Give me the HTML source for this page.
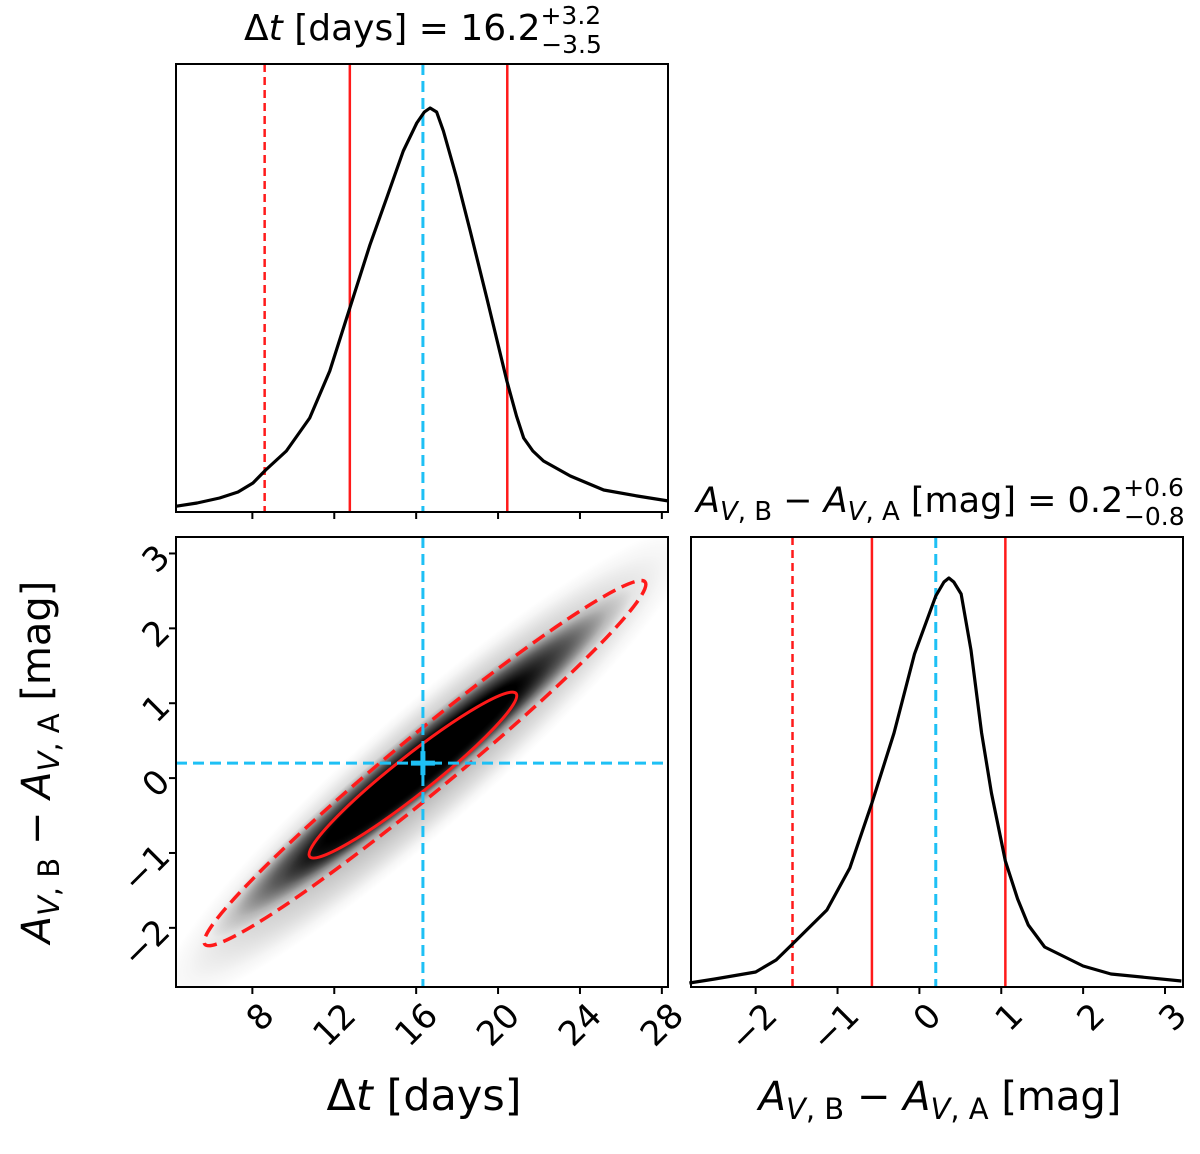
<!DOCTYPE html>
<html><head><meta charset="utf-8"><style>
body{margin:0;background:#fff}
svg{display:block;font-family:"DejaVu Sans","Liberation Sans",sans-serif}
</style></head><body>
<svg id="fig" width="1200" height="1154" viewBox="0 0 1200 1154" xmlns="http://www.w3.org/2000/svg">
<defs>
<radialGradient id="dens" cx="0.5" cy="0.5" r="0.5">
<stop offset="0" stop-color="#000" stop-opacity="1"/>
<stop offset="0.45" stop-color="#000" stop-opacity="1"/>
<stop offset="0.7" stop-color="#000" stop-opacity="0.55"/>
<stop offset="0.88" stop-color="#000" stop-opacity="0.15"/>
<stop offset="1" stop-color="#000" stop-opacity="0"/>
</radialGradient>
<clipPath id="c2d"><rect x="176" y="537" width="492" height="450"/></clipPath>
</defs>
<g id="root"></g>
</svg>
<script>
// ---- data ----
const dtTicks = [8, 12, 16, 20, 24, 28];
const avTicks = [-2, -1, 0, 1, 2, 3];
const dtHistX = [4.25, 5.3, 6.4, 7.3, 8.03, 8.65, 9.66, 10.8, 11.78, 12.76, 13.74, 14.56, 15.37, 16.03, 16.4, 16.68, 17.0, 17.33, 17.98, 18.64, 19.45, 20.43, 20.9, 21.25, 21.7, 22.22, 23.53, 25.16, 26.8, 28.33];
const dtHistY = [5.7, 9, 14, 20, 29, 42, 61, 94, 141, 204, 267, 314, 361, 389, 400, 404, 400, 381, 334, 281, 214, 131, 96, 74, 61, 51, 36, 22, 16, 11];
const avHistX = [-2.81, -2.5, -2.0, -1.75, -1.55, -1.13, -0.85, -0.58, -0.31, -0.06, 0.2, 0.3, 0.36, 0.42, 0.51, 0.63, 0.76, 0.88, 1.05, 1.2, 1.33, 1.53, 2.0, 2.34, 3.2];
const avHistY = [4, 8, 15, 27, 43, 77, 119, 184, 254, 333, 391, 405, 409, 405, 393, 337, 254, 194, 126, 88, 62, 40, 21, 13, 6];
const dtQuant = [8.6, 12.76, 20.45];   // dashed, solid, solid
const avQuant = [-1.55, -0.58, 1.05];
const dtBest = 16.33;
const avBest = 0.2;
const contour95 = [[5.68, -2.22], [27.18, 2.62]];
const contour68 = [[10.8, -1.05], [20.88, 1.13]];

// ---- axes ----
const L = {x0: 176, x1: 668};
const R = {x0: 691, x1: 1183};
const dtDom = [4.27, 28.3], avDom = [-2.79, 3.22];
const xDt = v => L.x0 + (v - dtDom[0]) / (dtDom[1] - dtDom[0]) * (L.x1 - L.x0);
const xAv = v => R.x0 + (v - avDom[0]) / (avDom[1] - avDom[0]) * (R.x1 - R.x0);
const yAv2d = v => 987 - (v - avDom[0]) / (avDom[1] - avDom[0]) * 450;
const yTopH = v => 512 - v / 448 * 448;
const yBrH = v => 987 - v / 450 * 450;

const NS = "http://www.w3.org/2000/svg";
const root = document.getElementById('root');
function mk(tag, attrs, parent) {
  const e = document.createElementNS(NS, tag);
  for (const k in attrs) e.setAttribute(k, attrs[k]);
  (parent || root).appendChild(e);
  return e;
}
function txt(s, attrs, parent) { const e = mk('text', attrs, parent); e.textContent = s; return e; }

// ---- 2D panel ----
const g2 = mk('g', {'clip-path': 'url(#c2d)'});


function ellipseFrom(ends, semiMinor, attrs, parent) {
  const ax = xDt(ends[0][0]), ay = yAv2d(ends[0][1]);
  const bx = xDt(ends[1][0]), by = yAv2d(ends[1][1]);
  const cx = (ax + bx) / 2, cy = (ay + by) / 2;
  const rx = Math.hypot(bx - ax, by - ay) / 2;
  const ang = Math.atan2(by - ay, bx - ax) * 180 / Math.PI;
  const a = Object.assign({cx: cx, cy: cy, rx: rx, ry: semiMinor, transform: `rotate(${ang} ${cx} ${cy})`}, attrs);
  return mk('ellipse', a, parent);
}
const haze = ellipseFrom([[3.5, -3.0], [29.5, 3.3]], 60, {fill: 'url(#dens)', opacity: 0.25}, g2);


const core = ellipseFrom([[6.0, -2.1], [26.5, 2.5]], 32, {fill: 'url(#dens)'}, g2);


const core2 = ellipseFrom([[9.5, -1.4], [22.5, 1.5]], 22, {fill: 'url(#dens)'}, g2);


const c95 = ellipseFrom(contour95, 29, {fill: 'none', stroke: '#ff1a1a', 'stroke-width': 3.5, 'stroke-dasharray': '14 7'}, g2);


const c68 = ellipseFrom(contour68, 19, {fill: 'none', stroke: '#ff1a1a', 'stroke-width': 3}, g2);


const bv = mk('line', {x1: xDt(dtBest), x2: xDt(dtBest), y1: 537, y2: 987, stroke: '#1ec0f5', 'stroke-width': 3, 'stroke-dasharray': '11 6'}, g2);


const bh = mk('line', {x1: 176, x2: 668, y1: yAv2d(avBest), y2: yAv2d(avBest), stroke: '#1ec0f5', 'stroke-width': 3, 'stroke-dasharray': '11 6'}, g2);


const bm = mk('path', {d: `M${xDt(dtBest)-12} ${yAv2d(avBest)}h24M${xDt(dtBest)} ${yAv2d(avBest)-12}v24`, stroke: '#1ec0f5', 'stroke-width': 5}, g2);



// ---- histograms ----
function hist(xs, ys, fx, fy, name) {
  const p = mk('polyline', {points: xs.map((v, i) => fx(v) + ',' + fy(ys[i])).join(' '), fill: 'none', stroke: '#000', 'stroke-width': 3.2, 'stroke-linejoin': 'round'});
  
  
}
function quantLines(q, best, fx, y0, y1, prefix) {
  q.forEach((v, i) => {
    const l = mk('line', {x1: fx(v), x2: fx(v), y1: y0, y2: y1, stroke: '#ff1a1a', 'stroke-width': 2.5});
    if (i === 0) l.setAttribute('stroke-dasharray', '8 5');
    
    
  });
  const b = mk('line', {x1: fx(best), x2: fx(best), y1: y0, y2: y1, stroke: '#1ec0f5', 'stroke-width': 3, 'stroke-dasharray': '11 6'});
  
  
}
quantLines(dtQuant, dtBest, xDt, 64, 512, 'dt');
hist(dtHistX, dtHistY, xDt, yTopH, 'dt-histogram');
quantLines(avQuant, avBest, xAv, 537, 987, 'av');
hist(avHistX, avHistY, xAv, yBrH, 'av-histogram');

// ---- frames & ticks ----
[[176, 64, 492, 448, 'top-frame'], [176, 537, 492, 450, 'density-frame'], [691, 537, 492, 450, 'av-frame']].forEach(f => {
  const r = mk('rect', {x: f[0], y: f[1], width: f[2], height: f[3], fill: 'none', stroke: '#000', 'stroke-width': 2});
  
  
});
dtTicks.forEach(t => {
  const x = xDt(t);
  const a = mk('line', {x1: x, x2: x, y1: 512, y2: 519, stroke: '#000', 'stroke-width': 2});
  
  
  const b = mk('line', {x1: x, x2: x, y1: 987, y2: 994, stroke: '#000', 'stroke-width': 2});
  
  
  const l = txt(String(t), {x: x + 6, y: 1000, 'font-size': 34, 'text-anchor': 'end', 'dominant-baseline': 'hanging', transform: `rotate(-45 ${x + 6} 1000)`});
  
  
});
avTicks.forEach(t => {
  const y = yAv2d(t);
  const a = mk('line', {x1: 169, x2: 176, y1: y, y2: y, stroke: '#000', 'stroke-width': 2});
  
  
  const l = txt(t < 0 ? '\u2212' + Math.abs(t) : String(t), {x: 164, y: y - 2, 'font-size': 34, 'text-anchor': 'end', 'dominant-baseline': 'central', transform: `rotate(-45 164 ${y - 2})`});
  
  
  const x = xAv(t);
  const b = mk('line', {x1: x, x2: x, y1: 987, y2: 994, stroke: '#000', 'stroke-width': 2});
  
  
  const l2 = txt(t < 0 ? '\u2212' + Math.abs(t) : String(t), {x: x + 6, y: 1000, 'font-size': 34, 'text-anchor': 'end', 'dominant-baseline': 'hanging', transform: `rotate(-45 ${x + 6} 1000)`});
  
  
});
</script>
<svg width="1200" height="1154" style="position:absolute;left:0;top:0" xmlns="http://www.w3.org/2000/svg">
<g font-family="DejaVu Sans, Liberation Sans, sans-serif" fill="#000">
<text x="244" y="40" font-size="36">Δ<tspan font-style="italic">t</tspan> [days] = 16.2<tspan font-size="25" dy="-16">+3.2</tspan><tspan font-size="25" dx="-60" dy="29">−3.5</tspan></text>
<text x="696" y="512" font-size="35"><tspan font-style="italic">A</tspan><tspan font-size="26" dy="8"><tspan font-style="italic">V</tspan>, B</tspan><tspan dy="-8"> − </tspan><tspan font-style="italic">A</tspan><tspan font-size="26" dy="8"><tspan font-style="italic">V</tspan>, A</tspan><tspan dy="-8"> [mag] = 0.2</tspan><tspan font-size="25" dy="-16">+0.6</tspan><tspan font-size="25" dx="-60" dy="29">−0.8</tspan></text>
<text x="424" y="1110" font-size="43" text-anchor="middle">Δ<tspan font-style="italic">t</tspan> [days]</text>
<text x="940" y="1110" font-size="40" text-anchor="middle"><tspan font-style="italic">A</tspan><tspan font-size="29" dy="9"><tspan font-style="italic">V</tspan>, B</tspan><tspan dy="-9"> − </tspan><tspan font-style="italic">A</tspan><tspan font-size="29" dy="9"><tspan font-style="italic">V</tspan>, A</tspan><tspan dy="-9"> [mag]</tspan></text>
<text x="0" y="0" font-size="40" text-anchor="middle" transform="translate(50 762) rotate(-90)"><tspan font-style="italic">A</tspan><tspan font-size="29" dy="9"><tspan font-style="italic">V</tspan>, B</tspan><tspan dy="-9"> − </tspan><tspan font-style="italic">A</tspan><tspan font-size="29" dy="9"><tspan font-style="italic">V</tspan>, A</tspan><tspan dy="-9"> [mag]</tspan></text>
</g>
</svg>
</body></html>
